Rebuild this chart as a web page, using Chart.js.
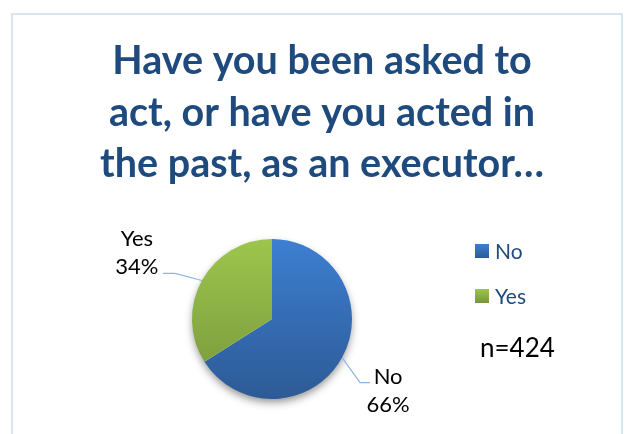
<!DOCTYPE html>
<html>
<head>
<meta charset="utf-8">
<script src="https://cdn.jsdelivr.net/npm/chart.js@4.4.1/dist/chart.umd.min.js"></script>
<style>
  html, body { margin: 0; padding: 0; background: #fff; }
  #wrap { position: relative; width: 626px; height: 434px; }
</style>
</head>
<body>
<div id="wrap"><canvas id="pie"></canvas></div>
<script>
const titleLines = ['Have you been asked to', 'act, or have you acted in', 'the past, as an executor…'];
const categories = ['No', 'Yes'];
const shares = [66, 34];
const sampleLabel = 'n=424';

// colours: [top, bottom] of each slice gradient
const sliceColors = [['#3d7fd1', '#2d5a96'], ['#9dc64d', '#76953a']];

// label placement relative to the slice edge point (like a dragged Excel label)
const labelLayout = [
  { elbow: [18, 25], tail: 10, text: [46, 33] },
  { elbow: [-27, -7], tail: -12, text: [-65, -28] }
];

function sliceFill(ctx) {
  const i = ctx.dataIndex;
  const area = ctx.chart.chartArea;
  if (!area) return sliceColors[i][0];
  const g = ctx.chart.ctx.createLinearGradient(0, area.top, 0, area.bottom);
  g.addColorStop(0, sliceColors[i][0]);
  g.addColorStop(1, sliceColors[i][1]);
  return g;
}

const decorations = {
  id: 'decorations',
  beforeDraw(chart) {
    const c = chart.ctx;
    c.save();
    c.strokeStyle = '#dae5f2';
    c.lineWidth = 2;
    c.strokeRect(12, 14, 610, 440);
    c.restore();
  },
  beforeDatasetsDraw(chart) {
    // soft drop shadow under the pie
    const arc = chart.getDatasetMeta(0).data[0];
    if (!arc) return;
    const c = chart.ctx;
    c.save();
    c.shadowColor = 'rgba(0,0,0,0.45)';
    c.shadowBlur = 9;
    c.shadowOffsetY = 4;
    c.fillStyle = '#fff';
    c.beginPath();
    c.arc(arc.x, arc.y, arc.outerRadius - 1, 0, Math.PI * 2);
    c.fill();
    c.restore();
  },
  afterDatasetsDraw(chart) {
    const c = chart.ctx;
    const meta = chart.getDatasetMeta(0);
    const total = shares.reduce((a, b) => a + b, 0);
    c.save();
    meta.data.forEach((arc, i) => {
      const mid = (arc.startAngle + arc.endAngle) / 2;
      const ex = arc.x + Math.cos(mid) * arc.outerRadius;
      const ey = arc.y + Math.sin(mid) * arc.outerRadius;
      const lay = labelLayout[i];
      const bx = ex + lay.elbow[0], by = ey + lay.elbow[1];
      c.strokeStyle = '#8fb4e3';
      c.lineWidth = 1.2;
      c.beginPath();
      c.moveTo(ex, ey);
      c.lineTo(bx, by);
      c.lineTo(bx + lay.tail, by);
      c.stroke();
      const tx = ex + lay.text[0], ty = ey + lay.text[1];
      c.fillStyle = '#000';
      c.font = '22px Lato';
      c.textAlign = 'center';
      c.textBaseline = 'middle';
      c.fillText(categories[i], tx, ty - 14);
      c.fillText(Math.round(shares[i] / total * 100) + '%', tx, ty + 14);
    });

    // title
    c.fillStyle = '#1f4a7e';
    c.font = 'bold 39.5px Lato';
    c.textAlign = 'center';
    c.textBaseline = 'alphabetic';
    titleLines.forEach((t, k) => c.fillText(t, 322, 74 + k * 51.5));

    // legend
    c.textAlign = 'left';
    c.textBaseline = 'middle';
    c.font = '21px Lato';
    categories.forEach((name, i) => {
      const y = 251 + i * 45;
      const g = c.createLinearGradient(0, y - 7, 0, y + 7);
      g.addColorStop(0, sliceColors[i][0]);
      g.addColorStop(1, sliceColors[i][1]);
      c.fillStyle = g;
      c.fillRect(475, y - 7, 14, 14);
      c.fillStyle = '#1f4a7e';
      c.fillText(name, 495, y + 1);
    });
    c.fillStyle = '#000';
    c.font = '26px Lato';
    c.fillText(sampleLabel, 480, 349);
    c.restore();
  }
};

new Chart(document.getElementById('pie').getContext('2d'), {
  type: 'pie',
  data: {
    labels: categories,
    datasets: [{
      data: shares,
      backgroundColor: sliceFill,
      borderWidth: 0,
      radius: 80,
      hoverOffset: 0
    }]
  },
  options: {
    responsive: true,
    maintainAspectRatio: false,
    animation: false,
    events: [],
    layout: { padding: { left: 192, right: 274, top: 239, bottom: 35 } },
    plugins: {
      legend: { display: false },
      title: { display: false },
      tooltip: { enabled: false }
    }
  },
  plugins: [decorations]
});
</script>
</body>
</html>
